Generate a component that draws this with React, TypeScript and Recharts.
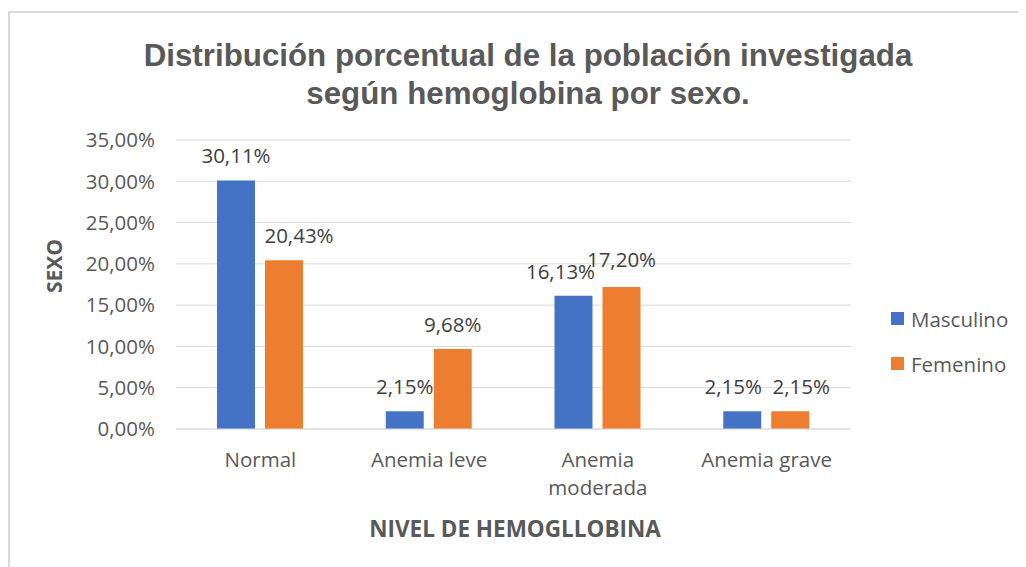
import React from 'react';
import { BarChart, Bar, XAxis, YAxis, CartesianGrid, LabelList } from 'recharts';

const categories = ['Normal', 'Anemia leve', 'Anemia moderada', 'Anemia grave'];
const masculino = [30.11, 2.15, 16.13, 2.15];
const femenino = [20.43, 9.68, 17.2, 2.15];
const yTicks = [0, 5, 10, 15, 20, 25, 30, 35];
const seriesNames = ['Masculino', 'Femenino'];
const seriesColors = ['#4472c4', '#ed7d31'];
// small nudges so neighbouring data labels don't collide (as Excel does)
const masculinoLabelShift = [0, 0, -13, -9];
const femeninoLabelShift = [15, 0, 0, 11];

const data = categories.map((name, i) => ({ name, masculino: masculino[i], femenino: femenino[i] }));

const fmt = (v: number) => v.toFixed(2).replace('.', ',') + '%';
const FONT = "'Open Sans', 'Noto Sans', sans-serif";
const FS = 20.5;

const XTick = (props: any) => {
  const { x, y, payload } = props;
  const text: string = payload.value;
  const lines = text.length > 12 ? text.split(' ') : [text];
  return (
    <text x={x} y={y + 30} textAnchor="middle" fontSize={FS} fill="#595959" fontFamily={FONT}>
      {lines.map((l, i) => (
        <tspan key={i} x={x} dy={i === 0 ? 0 : 28}>{l}</tspan>
      ))}
    </text>
  );
};

const makeLabel = (shifts: number[], extraUp: number[]) => (props: any) => {
  const { x, y, width, value, index } = props;
  return (
    <text x={x + width / 2 + shifts[index]} y={y - 17 - extraUp[index]} textAnchor="middle" fontSize={FS} fill="#404040" fontFamily={FONT}>
      {fmt(value)}
    </text>
  );
};

export default function App() {
  return (
    <div style={{ position: 'relative', width: 1020, height: 570, marginTop: 3, borderTop: '2px solid #d9d9d9', borderLeft: '2px solid #d9d9d9', fontFamily: FONT, overflow: 'hidden' }}>
      <div style={{ position: 'absolute', left: 0, top: 24, width: 1036, textAlign: 'center', fontFamily: "'Liberation Sans', Arial, sans-serif", fontWeight: 'bold', fontSize: 31.3, lineHeight: '38px', color: '#595959' }}>
        Distribución porcentual de la población investigada<br />según hemoglobina por sexo.
      </div>
      <div style={{ position: 'absolute', left: 4, top: 239, transform: 'rotate(-90deg)', transformOrigin: 'center', fontWeight: 'bold', fontSize: 21, color: '#595959', width: 80, textAlign: 'center' }}>
        SEXO
      </div>
      <div style={{ position: 'absolute', left: 0, top: 500, width: 1010, textAlign: 'center', fontWeight: 'bold', fontSize: 22.5, color: '#595959' }}>
        NIVEL DE HEMOGLLOBINA
      </div>
      <div style={{ position: 'absolute', left: 881, top: 283, fontSize: FS, color: '#595959' }}>
        {seriesNames.map((label, i) => (
          <div key={label} style={{ display: 'flex', alignItems: 'center', height: 45 }}>
            <span style={{ width: 13, height: 13, background: seriesColors[i], display: 'inline-block', marginRight: 7 }} />
            {label}
          </div>
        ))}
      </div>
      <BarChart width={1010} height={560} data={data} margin={{ top: 127, right: 169, bottom: 84, left: 0 }} barGap={10} barSize={38} style={{ position: 'absolute', left: 0, top: 0 }}>
        <CartesianGrid vertical={false} stroke="#d9d9d9" />
        <XAxis dataKey="name" height={60} interval={0} tickLine={false} axisLine={{ stroke: '#d9d9d9' }} tick={<XTick />} />
        <YAxis width={166} domain={[0, 35]} ticks={yTicks} tickFormatter={fmt} axisLine={false} tickLine={false} tickMargin={15} tick={{ fontSize: FS, fill: '#595959', fontFamily: FONT }} />
        <Bar dataKey="masculino" name={seriesNames[0]} fill={seriesColors[0]} isAnimationActive={false}>
          <LabelList dataKey="masculino" content={makeLabel(masculinoLabelShift, [0, 0, 0, 0])} />
        </Bar>
        <Bar dataKey="femenino" name={seriesNames[1]} fill={seriesColors[1]} isAnimationActive={false}>
          <LabelList dataKey="femenino" content={makeLabel(femeninoLabelShift, [0, 0, 3, 0])} />
        </Bar>
      </BarChart>
    </div>
  );
}
